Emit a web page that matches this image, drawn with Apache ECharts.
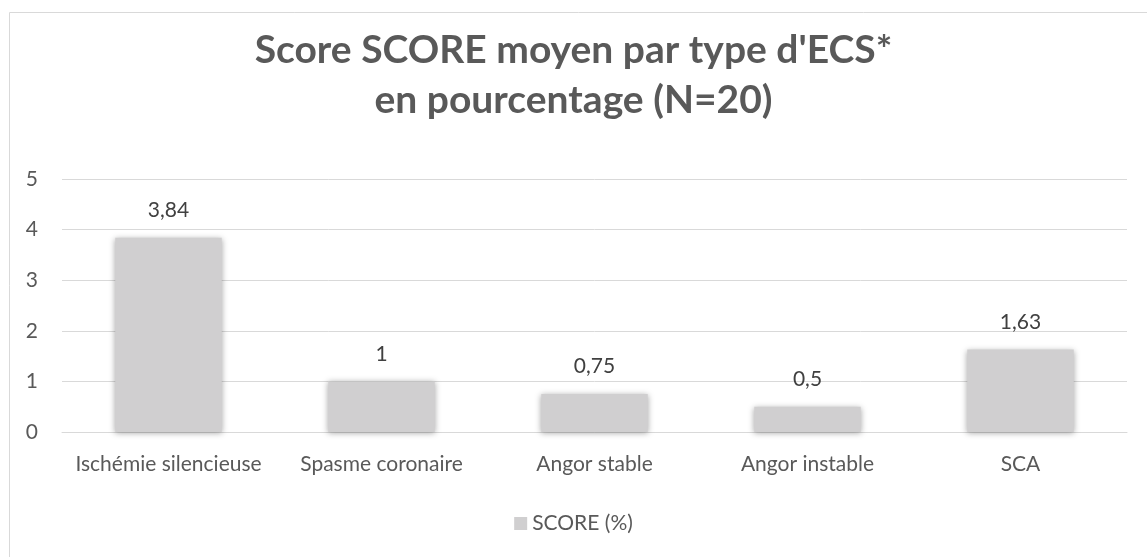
<!DOCTYPE html>
<html><head><meta charset="utf-8">
<script src="https://cdn.jsdelivr.net/npm/echarts@6/dist/echarts.min.js"></script>
<style>html,body{margin:0;padding:0;background:#fff}#c{width:1147px;height:557px}</style>
</head><body><div id="c"></div>
<script>
var categories = ["Ischémie silencieuse", "Spasme coronaire", "Angor stable", "Angor instable", "SCA"];
var scoreValues = [3.84, 1, 0.75, 0.5, 1.63];
var seriesName = "SCORE (%)";
var titleText = "Score SCORE moyen par type d'ECS*\nen pourcentage (N=20)";

var chart = echarts.init(document.getElementById('c'));
var font = 'Lato, "Open Sans", sans-serif';
chart.setOption({
  animation: false,
  textStyle: {fontFamily: font},
  graphic: [{type: 'rect', shape: {x: 9.5, y: 12.5, width: 1150, height: 560}, style: {fill: 'none', stroke: '#d9d9d9', lineWidth: 1}}],
  title: {
    text: titleText, left: 'center', top: 20,
    textStyle: {fontFamily: font, fontSize: 39, fontWeight: 'bold', color: '#595959', lineHeight: 50}
  },
  legend: {
    data: [seriesName], bottom: 18, left: 'center', itemWidth: 13, itemHeight: 13, icon: 'rect', itemGap: 6,
    textStyle: {fontFamily: font, fontSize: 21, color: '#595959'}
  },
  grid: {left: 62, right: 20, top: 179, bottom: 125},
  xAxis: {
    type: 'category', data: categories,
    axisLine: {lineStyle: {color: '#d9d9d9', width: 1}}, axisTick: {show: false},
    axisLabel: {interval: 0, fontFamily: font, fontSize: 21, color: '#595959', margin: 22}
  },
  yAxis: {
    type: 'value', min: 0, max: 5, interval: 1,
    axisLine: {show: false}, axisTick: {show: false},
    splitLine: {lineStyle: {color: '#d9d9d9', width: 1}},
    axisLabel: {fontFamily: font, fontSize: 21, color: '#595959', margin: 24, align: 'right'}
  },
  series: [{
    name: seriesName, type: 'bar', data: scoreValues, barWidth: '50%',
    itemStyle: {color: '#d0cfd0', shadowBlur: 6, shadowColor: 'rgba(0,0,0,0.35)', shadowOffsetX: 0, shadowOffsetY: 1},
    label: {show: true, position: 'top', distance: 17, fontFamily: font, fontSize: 21, color: '#404040',
      formatter: function(p){ return String(p.value).replace('.', ','); }}
  }]
});
</script></body></html>
